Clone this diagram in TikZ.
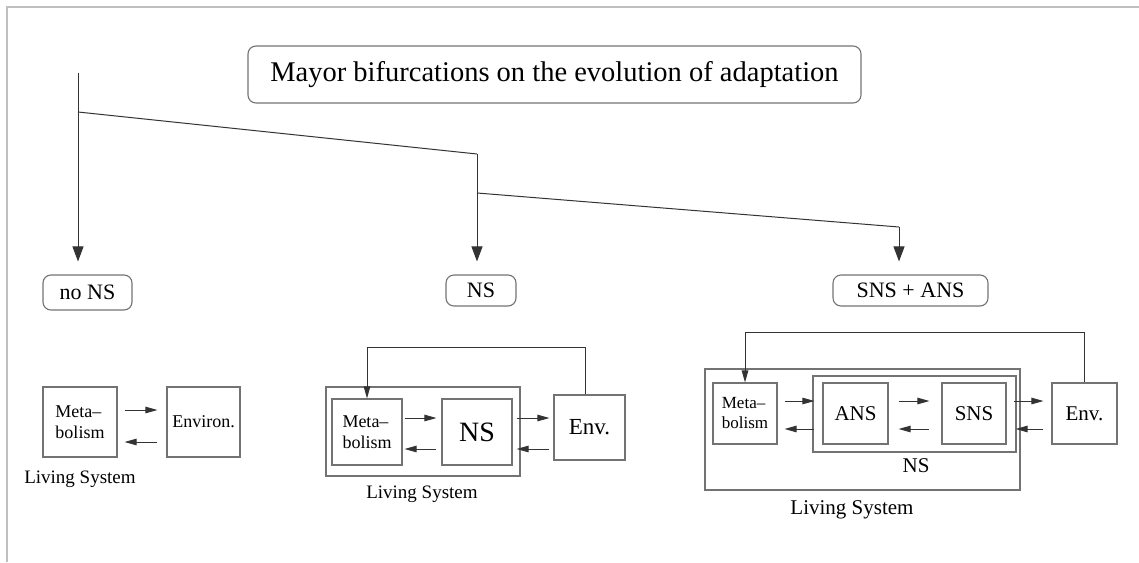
\documentclass[tikz,border=0pt]{standalone}
\usepackage{fontspec}
\setmainfont{Liberation Serif}
\usetikzlibrary{arrows.meta}

\begin{document}
\begin{tikzpicture}[x=1pt,y=-1pt,line width=1pt,>=Stealth,
  box/.style={draw=black!55,line width=1.1pt,inner sep=1pt},
  tag/.style={draw=black!55,line width=1.1pt,rounded corners=8pt,inner sep=1pt},
  branch/.style={draw=black!80,line width=1pt,-{Triangle[length=15pt,width=11pt]},shorten >=13pt},
  flow/.style={draw=black!80,line width=1pt,-{Triangle[length=12pt,width=6.5pt]}},
  fsa/.style={font=\fontsize{18}{21}\selectfont},
  fsb/.style={font=\fontsize{21}{25}\selectfont},
  fsc/.style={font=\fontsize{22}{26}\selectfont}]
\useasboundingbox (0,0) rectangle (1139,562);
% ---------- frame ----------
\draw[black!25,line width=1.6pt] (7,562) -- (7,7) -- (1139,7);
% ---------- title and the three cases ----------
\node[tag,minimum width=613pt,minimum height=57pt,font=\fontsize{28.5}{34}\selectfont]
  (title) at (554.5,74.5) {Mayor bifurcations on the evolution of adaptation};
\node[tag,fsc,minimum width=89pt,minimum height=35pt] (nons) at (87.5,292.5) {no NS};
\node[tag,fsc,minimum width=70pt,minimum height=31pt] (ns) at (481,290.5) {NS};
\node[tag,fsc,minimum width=155pt,minimum height=31pt] (snsans) at (910.5,290.5) {SNS + ANS};
\coordinate (t0) at (78,73);
\coordinate (t1) at (78,112);
\coordinate (t2) at (477,154);
\coordinate (t3) at (477,193);
\coordinate (t4) at (899,227);
\draw[branch] (t0) -- (t0 |- nons.north);
\draw[black!80] (t1) -- (t2);
\draw[branch] (t2) -- (t2 |- ns.north);
\draw[black!80] (t3) -- (t4);
\draw[branch] (t4) -- (t4 |- snsans.north);
% ---------- (a) no nervous system ----------
\node[box,fsa,minimum width=74pt,minimum height=70pt,align=left] (meta1) at (80,422) {Meta--\\bolism};
\node[box,fsa,minimum width=73pt,minimum height=70pt] (env1) at (203.5,422) {Environ.};
\draw[flow] ([xshift=7pt,yshift=12pt]meta1.east) -- ([xshift=-9pt,yshift=12pt]env1.west);
\draw[flow] ([xshift=-9pt,yshift=-20pt]env1.west) -- ([xshift=7pt,yshift=-20pt]meta1.east);
\node[fsa,font=\fontsize{19}{22}\selectfont] (live1) at (80,479) {Living System};
% ---------- (b) nervous system ----------
\node[box,minimum width=194pt,minimum height=89pt] (live2box) at (423,431.5) {};
\node[box,fsa,minimum width=70pt,minimum height=66pt,align=left] (meta2) at (367,432) {Meta--\\bolism};
\node[box,font=\fontsize{28}{32}\selectfont,minimum width=70pt,minimum height=66pt] (ns2) at (477,432) {NS};
\node[box,font=\fontsize{23}{26}\selectfont,minimum width=71pt,minimum height=65pt] (env2) at (589.5,427.5) {Env.};
\draw[flow] ([xshift=2pt,yshift=14pt]meta2.east) -- ([xshift=-5pt,yshift=14pt]ns2.west);
\draw[flow] ([xshift=-5pt,yshift=-17pt]ns2.west) -- ([xshift=2pt,yshift=-17pt]meta2.east);
\draw[flow] ([xshift=4pt,yshift=14pt]ns2.east) -- ([xshift=-4pt,yshift=9.5pt]env2.west);
\draw[flow] ([xshift=-4pt,yshift=-21.5pt]env2.west) -- ([xshift=4pt,yshift=-17pt]ns2.east);
\draw[flow] ([xshift=-4.5pt]env2.north) -- ++(0,-47) -| (meta2.north);
\node[font=\fontsize{19}{22}\selectfont] (live2) at (422,494) {Living System};
% ---------- (c) somatic + autonomic nervous system ----------
\node[box,minimum width=315pt,minimum height=121pt] (live3box) at (862.5,429.5) {};
\node[box,minimum width=203pt,minimum height=76pt] (ns3box) at (914.5,414) {};
\node[box,font=\fontsize{17}{20}\selectfont,minimum width=64pt,minimum height=61pt,align=left] (meta3) at (745,413.5) {Meta--\\bolism};
\node[box,fsb,minimum width=65pt,minimum height=61pt] (ans3) at (855.5,413.5) {ANS};
\node[box,fsb,minimum width=64pt,minimum height=61pt] (sns3) at (974,413.5) {SNS};
\node[box,fsb,minimum width=65pt,minimum height=61pt] (env3) at (1084.5,413.5) {Env.};
\draw[flow] ([xshift=7pt,yshift=12.5pt]meta3.east) -- ([xshift=-8pt,yshift=12.5pt]ans3.west);
\draw[flow] ([xshift=-8pt,yshift=-15.5pt]ans3.west) -- ([xshift=7pt,yshift=-15.5pt]meta3.east);
\draw[flow] ([xshift=10pt,yshift=12.5pt]ans3.east) -- ([xshift=-12pt,yshift=12.5pt]sns3.west);
\draw[flow] ([xshift=-12pt,yshift=-15.5pt]sns3.west) -- ([xshift=10pt,yshift=-15.5pt]ans3.east);
\draw[flow] ([xshift=7pt,yshift=12.5pt]sns3.east) -- ([xshift=-8pt,yshift=12.5pt]env3.west);
\draw[flow] ([xshift=-8pt,yshift=-15.5pt]env3.west) -- ([xshift=9pt,yshift=-15.5pt]sns3.east);
\draw[flow] (env3.north) -- ++(0,-50) -| (meta3.north);
\node[fsb] (ns3) at (916,466) {NS};
\node[fsb] (live3) at (852,510) {Living System};
\end{tikzpicture}
\end{document}
